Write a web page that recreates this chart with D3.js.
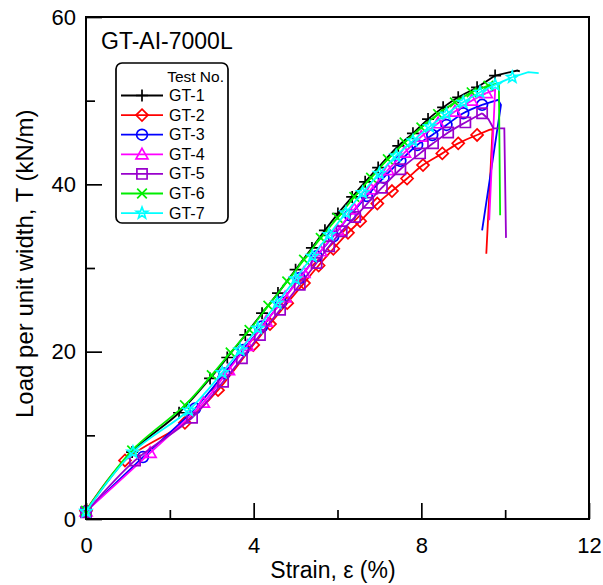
<!DOCTYPE html>
<html>
<head>
<meta charset="utf-8">
<script src="https://cdn.jsdelivr.net/npm/d3@7"></script>
<style>
  body { margin: 0; background: #fff; }
  text { font-family: "Liberation Sans", Arial, sans-serif; fill: #000; }
</style>
</head>
<body>
<script>
const WIDTH = 603;
const HEIGHT = 585;

// test names and colours
const testNames = ["GT-1", "GT-2", "GT-3", "GT-4", "GT-5", "GT-6", "GT-7"];
const markerKinds = ["plus", "diamond", "circle", "triangle", "square", "times", "star"];
const colors = ["#000000", "#ff0000", "#0000ff", "#ff00ff", "#9900cc", "#00ee00", "#00ffff"];

// [strain %, load kN/m], points with markers
const gt1 = [[0,1.0],[1.1,8.0],[2.22,12.7],[2.96,16.8],[3.37,19.3],[3.8,22.0],[4.2,24.6],[4.58,27.0],[5.0,29.8],[5.39,32.4],[5.7,34.5],[6.01,36.5],[6.35,38.5],[6.66,40.3],[6.97,42.0],[7.45,44.6],[7.8,46.1],[8.16,47.8],[8.52,49.2],[8.88,50.4],[9.33,51.6],[9.76,53.0]];
const gt2 = [[0,1.0],[0.93,7.0],[2.36,11.5],[3.15,15.4],[3.99,20.8],[4.39,23.3],[4.8,25.8],[5.2,28.2],[5.55,30.3],[5.9,32.3],[6.25,34.2],[6.54,35.6],[6.95,37.7],[7.3,39.2],[7.66,40.7],[8.04,42.3],[8.5,43.7],[8.88,44.9],[9.33,45.9]];
const gt3 = [[0,0.9],[1.36,7.4],[2.6,13.2],[3.3,17.4],[3.75,20.2],[4.2,23.0],[4.65,25.9],[5.1,28.8],[5.5,31.4],[5.9,33.8],[6.3,36.3],[6.7,38.6],[7.1,40.8],[7.5,42.8],[7.9,44.7],[8.26,45.9],[8.6,47.1],[9.0,48.5],[9.45,49.5]];
const gt4 = [[0,0.9],[1.53,7.9],[2.8,13.9],[3.4,17.8],[3.85,20.7],[4.3,23.6],[4.75,26.5],[5.2,29.4],[5.6,32.0],[6.0,34.5],[6.4,37.0],[6.8,39.4],[7.2,41.7],[7.6,43.8],[8.0,45.7],[8.4,47.3],[8.8,48.7],[9.2,50.0],[9.55,50.9]];
const gt5 = [[0,0.8],[1.17,7.0],[2.53,12.1],[3.27,16.4],[3.72,19.2],[4.15,22.0],[4.63,25.0],[5.1,28.0],[5.5,30.6],[5.8,32.6],[6.1,34.4],[6.42,36.1],[6.73,37.8],[7.06,39.6],[7.5,41.8],[7.97,43.7],[8.28,44.9],[8.64,46.2],[9.05,47.4],[9.45,48.5]];
const gt6 = [[0,1.0],[1.1,8.2],[2.36,13.6],[3.0,17.2],[3.45,19.9],[3.9,22.6],[4.35,25.5],[4.8,28.4],[5.2,31.0],[5.6,33.6],[6.0,36.0],[6.4,38.5],[6.8,40.8],[7.2,43.0],[7.6,45.0],[8.0,46.8],[8.4,48.4],[8.8,49.8],[9.2,51.0],[9.6,51.8]];
const gt7 = [[0,0.9],[1.12,8.0],[2.45,13.0],[3.25,17.5],[3.68,20.2],[4.1,22.8],[4.56,25.8],[5.0,28.7],[5.4,31.4],[5.8,34.0],[6.2,36.6],[6.6,39.0],[7.0,41.3],[7.4,43.4],[7.8,45.2],[8.2,46.9],[8.6,48.4],[9.0,49.8],[9.4,51.0],[9.76,51.9],[10.17,52.8]];

// end of each test (peak and drop after rupture), no markers
const tail1 = [[9.76,53.0],[10.29,53.6],[10.35,53.5]];
const tail2 = [[9.33,45.9],[9.62,46.5],[9.7,46.6],[9.55,31.7]];
const tail3 = [[9.45,49.5],[9.83,50.1],[9.9,49.5],[9.45,34.5]];
const tail4 = [[9.55,50.9],[9.76,51.3],[9.62,35.7]];
const tail5 = [[9.45,48.5],[9.6,47.8],[9.72,46.7],[9.98,46.7],[10.02,33.6]];
const tail6 = [[9.6,51.8],[9.85,52.1],[9.88,36.3]];
const tail7 = [[10.17,52.8],[10.55,53.4],[10.8,53.3]];

const curves = [gt1, gt2, gt3, gt4, gt5, gt6, gt7];
const tails = [tail1, tail2, tail3, tail4, tail5, tail6, tail7];

const xMajor = [0, 4, 8, 12];
const xMinor = [2, 6, 10];
const yMajor = [0, 20, 40, 60];
const yMinor = [10, 30, 50];

const chartTitle = "GT-AI-7000L";
const legendTitle = "Test No.";
const xTitle = "Strain, \u03b5 (%)";
const yTitle = "Load per unit width, T (kN/m)";

const svg = d3.select("body").append("svg")
    .attr("width", WIDTH)
    .attr("height", HEIGHT);

const x = d3.scaleLinear().domain([0, 12]).range([86, 589]);
const y = d3.scaleLinear().domain([0, 60]).range([519, 17]);

// marker shapes
function markerPath(kind, s) {
    const p = d3.path();
    if (kind == "plus") {
        p.moveTo(-s, 0); p.lineTo(s, 0);
        p.moveTo(0, -s); p.lineTo(0, s);
    } else if (kind == "times") {
        const a = s * 0.8;
        p.moveTo(-a, -a); p.lineTo(a, a);
        p.moveTo(-a, a); p.lineTo(a, -a);
    } else if (kind == "diamond") {
        p.moveTo(0, -s); p.lineTo(s, 0); p.lineTo(0, s); p.lineTo(-s, 0); p.closePath();
    } else if (kind == "circle") {
        p.moveTo(s * 0.9, 0); p.arc(0, 0, s * 0.9, 0, 2 * Math.PI);
    } else if (kind == "triangle") {
        p.moveTo(0, -s); p.lineTo(s, s * 0.75); p.lineTo(-s, s * 0.75); p.closePath();
    } else if (kind == "square") {
        const a = s * 0.85;
        p.rect(-a, -a, 2 * a, 2 * a);
    } else if (kind == "star") {
        for (let i = 0; i < 10; i++) {
            const r = i % 2 == 0 ? s : s * 0.42;
            const ang = -Math.PI / 2 + i * Math.PI / 5;
            if (i == 0) p.moveTo(r * Math.cos(ang), r * Math.sin(ang));
            else p.lineTo(r * Math.cos(ang), r * Math.sin(ang));
        }
        p.closePath();
    }
    return p.toString();
}

// axes
const gx = svg.append("g").attr("transform", "translate(0,519)");
gx.call(d3.axisBottom(x).tickValues(xMajor).tickSize(-16).tickPadding(18).tickFormat(d3.format("d")));
gx.append("g").call(d3.axisBottom(x).tickValues(xMinor).tickSize(-9).tickFormat(""));

const gy = svg.append("g").attr("transform", "translate(86,0)");
gy.call(d3.axisLeft(y).tickValues(yMajor).tickSize(-16).tickPadding(10).tickFormat(d3.format("d")));
gy.append("g").call(d3.axisLeft(y).tickValues(yMinor).tickSize(-9).tickFormat(""));

svg.selectAll(".domain").remove();
svg.selectAll(".tick line").attr("stroke", "#000").attr("stroke-width", 1.7);
svg.selectAll(".tick text")
    .style("font-family", "Liberation Sans, Arial, sans-serif")
    .attr("font-size", 22)
    .attr("fill", "#000");

const line = d3.line()
    .x(d => x(d[0]))
    .y(d => y(d[1]))
    .curve(d3.curveCatmullRom.alpha(0.5));
const tailLine = d3.line()
    .x(d => x(d[0]))
    .y(d => y(d[1]));

curves.forEach((data, i) => {
    const g = svg.append("g");
    g.append("path")
        .attr("d", line(data))
        .attr("fill", "none")
        .attr("stroke", colors[i])
        .attr("stroke-width", 1.8);
    g.append("path")
        .attr("d", tailLine(tails[i]))
        .attr("fill", "none")
        .attr("stroke", colors[i])
        .attr("stroke-width", 1.8);
    g.selectAll("path.mk")
        .data(data).enter()
        .append("path")
        .attr("class", "mk")
        .attr("transform", d => `translate(${x(d[0])},${y(d[1])})`)
        .attr("d", markerPath(markerKinds[i], 6))
        .attr("fill", "none")
        .attr("stroke", colors[i])
        .attr("stroke-width", 1.7);
});

// frame
svg.append("rect")
    .attr("x", 86).attr("y", 17)
    .attr("width", 503).attr("height", 502)
    .attr("fill", "none")
    .attr("stroke", "#000")
    .attr("stroke-width", 2);

// titles
svg.append("text")
    .attr("x", 101).attr("y", 49)
    .attr("font-size", 23)
    .text(chartTitle);

svg.append("text")
    .attr("x", 333).attr("y", 578)
    .attr("text-anchor", "middle")
    .attr("font-size", 23)
    .text(xTitle);

svg.append("text")
    .attr("transform", "translate(33,418) rotate(-90)")
    .attr("text-anchor", "start")
    .attr("font-size", 24)
    .text(yTitle);

// legend
const legend = svg.append("g");
legend.append("rect")
    .attr("x", 116).attr("y", 63)
    .attr("width", 112).attr("height", 160)
    .attr("rx", 6)
    .attr("fill", "#fff")
    .attr("stroke", "#000")
    .attr("stroke-width", 1.7);
legend.append("text")
    .attr("x", 224).attr("y", 82)
    .attr("text-anchor", "end")
    .attr("font-size", 15.5)
    .text(legendTitle);

testNames.forEach((name, i) => {
    const ly = 95.5 + i * 19.6;
    legend.append("line")
        .attr("x1", 121).attr("x2", 163)
        .attr("y1", ly).attr("y2", ly)
        .attr("stroke", colors[i])
        .attr("stroke-width", 1.8);
    legend.append("path")
        .attr("transform", `translate(142,${ly})`)
        .attr("d", markerPath(markerKinds[i], 6))
        .attr("fill", "none")
        .attr("stroke", colors[i])
        .attr("stroke-width", 1.7);
    legend.append("text")
        .attr("x", 169).attr("y", ly + 5.5)
        .attr("font-size", 16)
        .text(name);
});
</script>
</body>
</html>
